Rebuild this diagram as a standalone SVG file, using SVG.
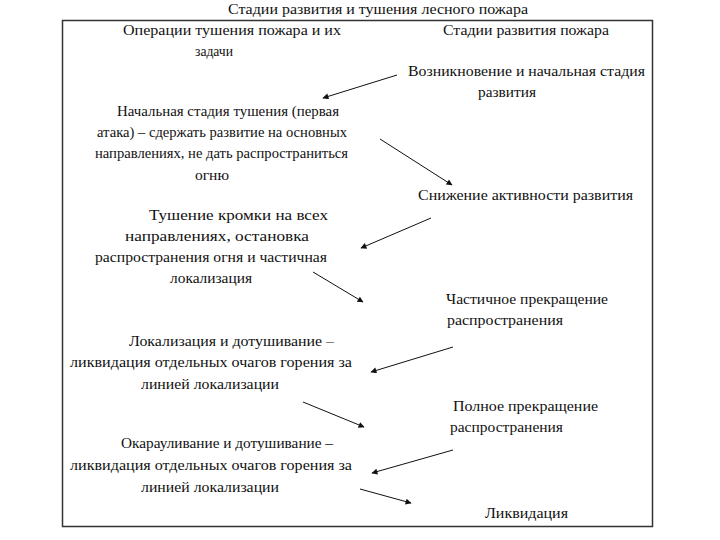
<svg xmlns="http://www.w3.org/2000/svg" width="720" height="540" viewBox="0 0 720 540">
<style>
text{font-family:"Liberation Serif","Times New Roman",serif;font-size:14px;fill:#111}
.c{stroke:#111;stroke-width:1;fill:none;marker-end:url(#ah)}
</style>
<defs>
<marker id="ah" viewBox="0 0 10 10" refX="9" refY="5" markerWidth="9" markerHeight="6" markerUnits="userSpaceOnUse" orient="auto"><path d="M0,0 L10,5 L0,10 z" fill="#111"/></marker>
</defs>
<rect width="720" height="540" fill="#fff"/>
<text id="title" x="228" y="14" textLength="300" lengthAdjust="spacingAndGlyphs">Стадии развития и тушения лесного пожара</text>
<rect id="frame" x="62.5" y="20.5" width="590" height="506" fill="none" stroke="#333" stroke-width="1.5"/>
<g id="hdr-ops"><text x="123" y="35" textLength="218" lengthAdjust="spacingAndGlyphs">Операции тушения пожара и их</text><text x="195" y="56" textLength="38" lengthAdjust="spacingAndGlyphs">задачи</text></g>
<g id="hdr-stages"><text x="443" y="35" textLength="166" lengthAdjust="spacingAndGlyphs">Стадии развития пожара</text></g>
<g id="s1"><text x="408" y="76" textLength="237" lengthAdjust="spacingAndGlyphs">Возникновение и начальная стадия</text><text x="478" y="97" textLength="58" lengthAdjust="spacingAndGlyphs">развития</text></g>
<g id="o1"><text x="117" y="116" textLength="222" lengthAdjust="spacingAndGlyphs">Начальная стадия тушения (первая</text><text x="97" y="137" textLength="250" lengthAdjust="spacingAndGlyphs">атака) – сдержать развитие на основных</text><text x="95" y="158" textLength="253" lengthAdjust="spacingAndGlyphs">направлениях, не дать распространиться</text><text x="195" y="180" textLength="34" lengthAdjust="spacingAndGlyphs">огню</text></g>
<g id="s2"><text x="418" y="200" textLength="215" lengthAdjust="spacingAndGlyphs">Снижение активности развития</text></g>
<g id="o2"><text x="149" y="220" textLength="179" lengthAdjust="spacingAndGlyphs">Тушение кромки на всех</text><text x="125" y="241" textLength="184" lengthAdjust="spacingAndGlyphs">направлениях, остановка</text><text x="95" y="262" textLength="232" lengthAdjust="spacingAndGlyphs">распространения огня и частичная</text><text x="170" y="283" textLength="82" lengthAdjust="spacingAndGlyphs">локализация</text></g>
<g id="s3"><text x="446" y="304" textLength="162" lengthAdjust="spacingAndGlyphs">Частичное прекращение</text><text x="447" y="325" textLength="116" lengthAdjust="spacingAndGlyphs">распространения</text></g>
<g id="o3"><text x="129" y="346" textLength="205" lengthAdjust="spacingAndGlyphs">Локализация и дотушивание –</text><text x="70" y="367" textLength="282" lengthAdjust="spacingAndGlyphs">ликвидация отдельных очагов горения за</text><text x="141" y="389" textLength="138" lengthAdjust="spacingAndGlyphs">линией локализации</text></g>
<g id="s4"><text x="453" y="411" textLength="145" lengthAdjust="spacingAndGlyphs">Полное прекращение</text><text x="450" y="432" textLength="113" lengthAdjust="spacingAndGlyphs">распространения</text></g>
<g id="o4"><text x="121" y="448" textLength="212" lengthAdjust="spacingAndGlyphs">Окарауливание и дотушивание –</text><text x="70" y="470" textLength="282" lengthAdjust="spacingAndGlyphs">ликвидация отдельных очагов горения за</text><text x="141" y="492" textLength="138" lengthAdjust="spacingAndGlyphs">линией локализации</text></g>
<g id="s5"><text x="485" y="518" textLength="83" lengthAdjust="spacingAndGlyphs">Ликвидация</text></g>
<g id="connectors">
<line class="c" x1="397" y1="75" x2="323" y2="98"/>
<line class="c" x1="380" y1="139" x2="452" y2="185"/>
<line class="c" x1="431" y1="218" x2="361" y2="248"/>
<line class="c" x1="313" y1="272" x2="363" y2="302"/>
<line class="c" x1="453" y1="347" x2="371" y2="372"/>
<line class="c" x1="303" y1="402" x2="364" y2="427"/>
<line class="c" x1="453" y1="450" x2="372" y2="473"/>
<line class="c" x1="360" y1="489" x2="411" y2="503"/>
</g>
</svg>
